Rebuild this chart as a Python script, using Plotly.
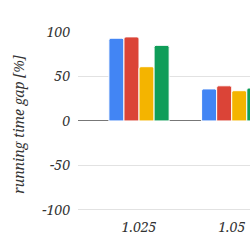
import plotly.graph_objects as go

categories = ["1.025", "1.05"]
series_names = ["Series A", "Series B", "Series C", "Series D"]
series_values = [
    [93, 36],
    [94.5, 39.5],
    [61, 34],
    [85, 37],
]
colors = ["#4285F4", "#DB4437", "#F4B400", "#0F9D58"]
y_ticks = [-100, -50, 0, 50, 100]
y_tick_labels = ["-100", "-50", "0", "50", "100"]

fig = go.Figure()
for name, vals, col in zip(series_names, series_values, colors):
    fig.add_trace(go.Bar(
        x=categories, y=vals, name=name,
        marker=dict(color=col, line=dict(color="white", width=1), cornerradius=2),
        showlegend=False,
    ))

FAM = "Noto Serif"
tfont = dict(family=FAM, size=14, style="italic", color="#333333")
fig.update_layout(
    width=250, height=250,
    margin=dict(l=78, r=0, t=32, b=33),
    plot_bgcolor="white", paper_bgcolor="white",
    barmode="group", bargap=0.35, bargroupgap=0,
    font=dict(family=FAM, size=14, color="#333333"),
    xaxis=dict(
        type="category", range=[-0.658, 1.197],
        showgrid=False, showline=False, zeroline=False,
        tickfont=tfont, ticks="", ticklabelstandoff=0,
    ),
    yaxis=dict(
        range=[-108, 100], tickvals=y_ticks, ticktext=y_tick_labels,
        showgrid=True, gridcolor="#e2e2e2", gridwidth=1,
        zeroline=True, zerolinecolor="#777777", zerolinewidth=1,
        showline=False,
        tickfont=tfont, ticks="", ticklabelstandoff=7,
        title=dict(text="running time gap [%]", font=dict(family=FAM, size=14, style="italic", color="#333333"), standoff=14),
    ),
)
fig.write_html("out.html")
